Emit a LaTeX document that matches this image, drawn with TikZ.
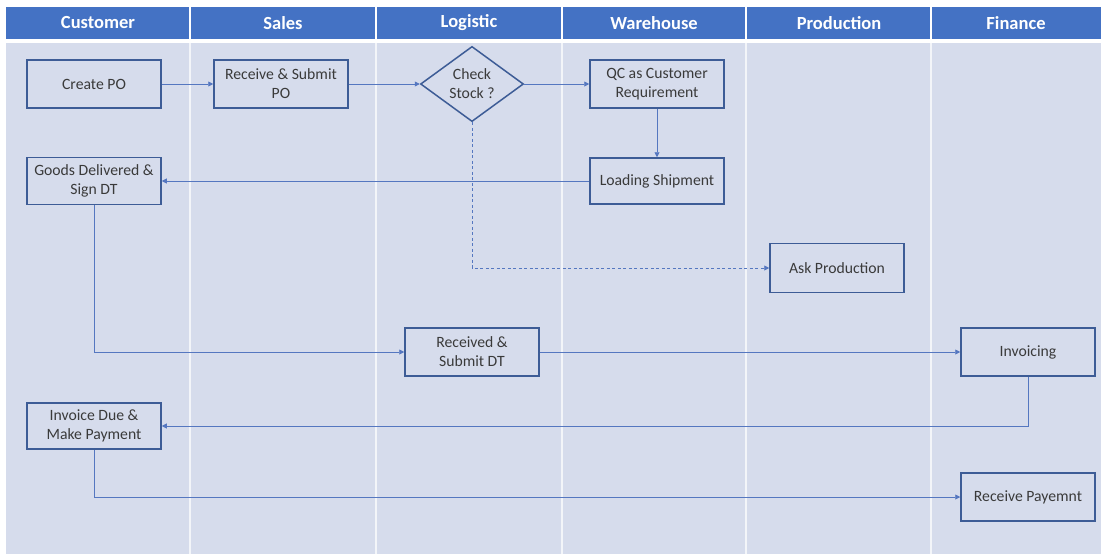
\documentclass[tikz,border=0pt]{standalone}
\usepackage{fontspec}
\setmainfont{Carlito}
\usetikzlibrary{shapes.geometric,arrows.meta}
\definecolor{hdr}{HTML}{4472C4}
\definecolor{bodybg}{HTML}{D6DCEC}
\definecolor{boxline}{HTML}{3D5C96}
\definecolor{conn}{HTML}{5577C0}
\definecolor{txt}{HTML}{3A3A3A}
\tikzset{
  every picture/.style={x=1pt,y=-1pt},
  proc/.style={draw=boxline,line width=1.5pt,fill=bodybg,text=txt,align=center,
    font=\fontsize{15.7}{19}\selectfont,inner sep=0pt,minimum width=134pt,minimum height=48pt},
  decis/.style={proc,shape=diamond,minimum width=103pt,minimum height=73pt},
  lane/.style={font=\bfseries\fontsize{18.5}{20}\selectfont,text=white},
  flow/.style={draw=conn,line width=0.9pt,-{Triangle[width=5pt,length=5pt]}},
  dflow/.style={flow,dash pattern=on 3pt off 2.5pt}
}
\begin{document}
\begin{tikzpicture}
\useasboundingbox (0,0) rectangle (1101,554);
\fill[white] (0,0) rectangle (1101,554);
% header and body
\fill[hdr] (6,7) rectangle (1101,39);
\fill[bodybg] (6,43) rectangle (1101,554);
\foreach \x in {190,376,562,746,931}{
  \draw[white,line width=1.2pt] (\x,7) -- (\x,39);
  \draw[white!70!bodybg,line width=1.2pt] (\x,43) -- (\x,554);
}
\node[lane] (h1) at (98,23) {Customer};
\node[lane] (h2) at (283,23) {Sales};
\node[lane] (h3) at (469,23) {Logistic};
\node[lane] (h4) at (654,23) {Warehouse};
\node[lane] (h5) at (839,23) {Production};
\node[lane] (h6) at (1016,23) {Finance};
% nodes
\node[proc] (po) at (94,84) {Create PO};
\node[proc] (rs) at (281,84) {Receive \& Submit\\PO};
\node[decis] (cs) at (472,84) {Check\\Stock ?};
\node[proc] (qc) at (657,84) {QC as Customer\\Requirement};
\node[proc,minimum height=46pt] (ls) at (657,181) {Loading Shipment};
\node[proc,minimum height=47pt] (gd) at (94,181) {Goods Delivered \&\\Sign DT};
\node[proc,minimum height=49pt] (ap) at (837,268) {Ask Production};
\node[proc] (rd) at (472,352) {Received \&\\Submit DT};
\node[proc] (iv) at (1028,352) {Invoicing};
\node[proc,minimum height=46pt] (id) at (94,426) {Invoice Due \&\\Make Payment};
\node[proc] (rp) at (1028,497) {Receive Payemnt};
% connectors
\draw[flow] (po) -- (rs);
\draw[flow] (rs) -- (cs);
\draw[flow] (cs) -- (qc);
\draw[flow] (qc) -- (ls);
\draw[flow] (ls) -- (gd);
\draw[dflow] (cs.south) |- (ap.west);
\draw[flow] (gd.south) |- (rd.west);
\draw[flow] (rd) -- (iv);
\draw[flow] (iv.south) |- (id.east);
\draw[flow] (id.south) |- (rp.west);
\end{tikzpicture}
\end{document}
